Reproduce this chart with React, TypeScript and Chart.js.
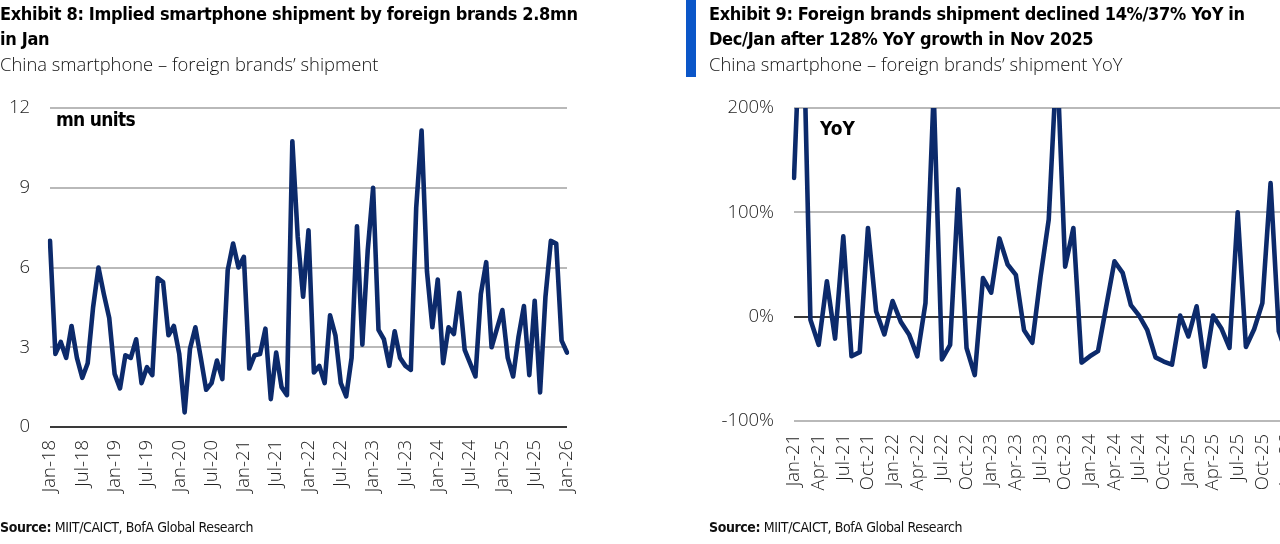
import React, { useEffect, useRef } from "react";
import Chart from "chart.js/auto";

// Exhibit 8: foreign brands' shipment, mn units, Jan-18 .. Jan-26
const shipStart = { year: 2018, month: 0 };
const shipments = [
  7.0, 2.75, 3.2, 2.6, 3.8, 2.6, 1.85, 2.4, 4.5, 6.0, 5.0, 4.1,
  2.0, 1.45, 2.7, 2.6, 3.3, 1.65, 2.25, 1.95, 5.6, 5.45, 3.45, 3.8,
  2.75, 0.55, 2.95, 3.75, 2.6, 1.4, 1.65, 2.5, 1.8, 5.9, 6.9, 6.0,
  6.4, 2.2, 2.7, 2.75, 3.7, 1.05, 2.8, 1.5, 1.2, 10.75, 7.15, 4.9,
  7.4, 2.05, 2.3, 1.65, 4.2, 3.45, 1.65, 1.15, 2.6, 7.55, 3.1, 6.65,
  9.0, 3.65, 3.3, 2.3, 3.6, 2.6, 2.3, 2.15, 8.25, 11.15, 5.85, 3.75,
  5.55, 2.4, 3.75, 3.5, 5.05, 2.9, 2.4, 1.9, 5.0, 6.2, 3.0, 3.7,
  4.4, 2.6, 1.9, 3.4, 4.55, 1.95, 4.75, 1.3, 4.9, 7.0, 6.9, 3.25,
  2.8,
];
const shipTicks = [0, 3, 6, 9, 12];

// Exhibit 9: foreign brands' shipment YoY (%), Jan-21 .. Jan-26
const yoyStart = { year: 2021, month: 0 };
const yoy = [
  133, 330, -3, -27, 34, -21, 77, -38, -34, 85, 5, -17,
  15, -5, -17, -38, 13, 215, -41, -27, 122, -30, -56, 37,
  23, 75, 50, 40, -13, -25, 38, 93, 250, 48, 85, -44,
  -38, -33, 10, 53, 42, 11, 1, -13, -39, -43, -46, 1,
  -19, 10, -48, 1, -11, -30, 100, -29, -12, 13, 128, -14,
  -37,
];
const yoyTicks = [-100, 0, 100, 200];

const MONTHS = ["Jan", "Feb", "Mar", "Apr", "May", "Jun", "Jul", "Aug", "Sep", "Oct", "Nov", "Dec"];
const monthLabels = (start: { year: number; month: number }, n: number) =>
  Array.from({ length: n }, (_, i) => {
    const m = start.month + i;
    const y = start.year + Math.floor(m / 12);
    return `${MONTHS[m % 12]}-${String(y).slice(2)}`;
  });

const shipLabels = monthLabels(shipStart, shipments.length);
const yoyLabels = monthLabels(yoyStart, yoy.length);

const NAVY = "#0c2a6b";
const GRID = "#b9b9b9";
const ZERO = "#3a3a3a";
const TICK_FONT = { family: "'Open Sans', sans-serif", size: 18.5, weight: "300" as const };
const TEXT_FONT = "'Liberation Sans Narrow', 'DejaVu Sans Condensed', Roboto, sans-serif";

type LineProps = {
  labels: string[];
  data: number[];
  ticks: number[];
  every: number;
  suffix: string;
  width: number;
  yAxisWidth: number;
  padRight: number;
  xAxisHeight: number;
};

const LineChart: React.FC<LineProps> = ({ labels, data, ticks, every, suffix, width, yAxisWidth, padRight, xAxisHeight }) => {
  const canvasRef = useRef<HTMLCanvasElement | null>(null);

  useEffect(() => {
    if (!canvasRef.current) return;
    const chart = new Chart(canvasRef.current, {
      type: "line",
      data: {
        labels,
        datasets: [
          {
            data,
            borderColor: NAVY,
            borderWidth: 4.6,
            borderJoinStyle: "round",
            borderCapStyle: "round",
            pointRadius: 0,
            tension: 0,
            fill: false,
          },
        ],
      },
      options: {
        responsive: false,
        animation: false,
        layout: { padding: { left: 0, top: 108, right: padRight, bottom: 0 } },
        plugins: { legend: { display: false }, tooltip: { enabled: false } },
        scales: {
          x: {
            offset: false,
            grid: { display: false, drawTicks: false },
            border: { display: false },
            ticks: {
              autoSkip: false,
              minRotation: 90,
              maxRotation: 90,
              padding: 13,
              color: "#222",
              font: TICK_FONT,
              callback: (_v, i) => (i % every === 0 ? labels[i] : ""),
            },
            afterFit: (s) => {
              s.height = xAxisHeight;
              s.paddingLeft = 0;
              s.paddingRight = 0;
            },
          },
          y: {
            min: ticks[0],
            max: ticks[ticks.length - 1],
            afterBuildTicks: (s) => {
              s.ticks = ticks.map((v) => ({ value: v }));
            },
            grid: {
              drawTicks: false,
              lineWidth: 2,
              color: (c) => (c.tick && c.tick.value === 0 ? ZERO : GRID),
            },
            border: { display: false },
            ticks: {
              padding: 20,
              color: "#222",
              font: TICK_FONT,
              callback: (v) => `${v}${suffix}`,
            },
            afterFit: (s) => {
              s.width = yAxisWidth;
            },
          },
        },
      },
    });
    return () => chart.destroy();
  }, []);

  return <canvas ref={canvasRef} width={width} height={544} style={{ width, height: 544, display: "block" }} />;
};

const abs = (s: React.CSSProperties): React.CSSProperties => ({ position: "absolute", ...s });

const titleStyle: React.CSSProperties = {
  fontFamily: TEXT_FONT,
  fontWeight: 700,
  fontSize: 18,
  lineHeight: "25px",
  letterSpacing: "-0.33px",
  color: "#000",
  whiteSpace: "nowrap",
};
const subStyle: React.CSSProperties = {
  fontFamily: "'Open Sans', sans-serif",
  fontWeight: 300,
  fontSize: 18.4,
  lineHeight: "25px",
  color: "#111",
  whiteSpace: "nowrap",
};
const sourceStyle: React.CSSProperties = {
  fontFamily: TEXT_FONT,
  fontSize: 14,
  letterSpacing: "-0.4px",
  color: "#111",
  whiteSpace: "nowrap",
};
const noteStyle: React.CSSProperties = {
  fontFamily: TEXT_FONT,
  fontWeight: 700,
  fontSize: 19,
  color: "#000",
  whiteSpace: "nowrap",
};

export default function App() {
  return (
    <div style={{ position: "fixed", left: 0, top: 0, width: 1280, height: 544, overflow: "hidden", background: "#fff" }}>
      <div style={abs({ left: 0, top: 0 })}>
        <LineChart labels={shipLabels} data={shipments} ticks={shipTicks} every={6} suffix="" width={600}
          yAxisWidth={50} padRight={33} xAxisHeight={117} />
      </div>
      <div style={abs({ left: 700, top: 0 })}>
        <LineChart labels={yoyLabels} data={yoy} ticks={yoyTicks} every={3} suffix="%" width={600}
          yAxisWidth={94} padRight={13} xAxisHeight={123} />
      </div>

      <div style={abs({ left: 0, top: 1 })}>
        <div style={titleStyle}>Exhibit 8: Implied smartphone shipment by foreign brands 2.8mn</div>
        <div style={titleStyle}>in Jan</div>
        <div style={subStyle}>China smartphone – foreign brands’ shipment</div>
      </div>
      <div style={abs({ left: 686, top: 0, width: 10, height: 77, background: "#0b56c8" })} />
      <div style={abs({ left: 709, top: 1 })}>
        <div style={titleStyle}>Exhibit 9: Foreign brands shipment declined 14%/37% YoY in</div>
        <div style={titleStyle}>Dec/Jan after 128% YoY growth in Nov 2025</div>
        <div style={subStyle}>China smartphone – foreign brands’ shipment YoY</div>
      </div>

      <div style={abs({ left: 56, top: 108, letterSpacing: "-0.7px", ...noteStyle })}>mn units</div>
      <div style={abs({ left: 820, top: 117, ...noteStyle })}>YoY</div>

      <div style={abs({ left: 0, top: 519, ...sourceStyle })}>
        <b>Source:</b> MIIT/CAICT, BofA Global Research
      </div>
      <div style={abs({ left: 709, top: 519, ...sourceStyle })}>
        <b>Source:</b> MIIT/CAICT, BofA Global Research
      </div>
    </div>
  );
}
